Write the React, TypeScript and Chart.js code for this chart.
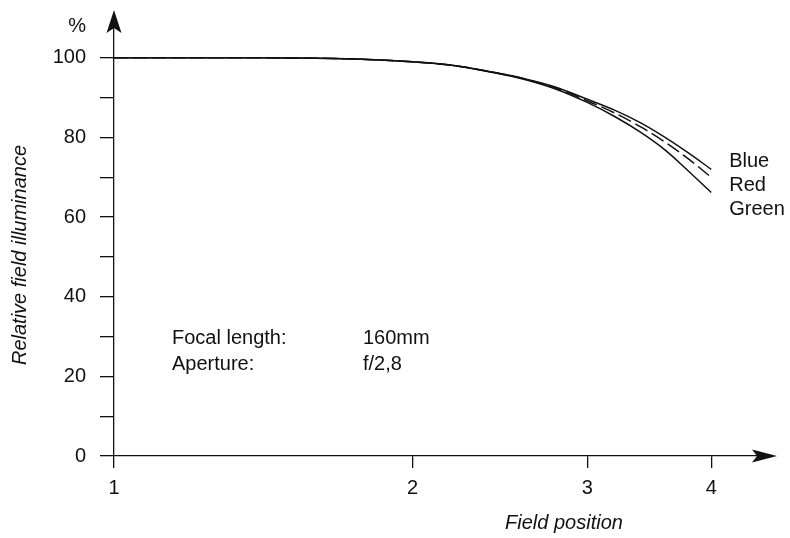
import React, { useEffect, useRef } from "react";
import { Chart, registerables } from "chart.js";

Chart.register(...registerables);

// ---- data ----
const FIELD_POSITIONS = [1, 1.2, 1.4, 1.6, 1.8, 2.0, 2.2, 2.4, 2.6, 2.8, 3.0, 3.2, 3.4, 3.6, 3.8, 4.0];
const BLUE = [100, 100, 100, 99.9, 99.6, 99.0, 98.1, 96.5, 94.7, 92.5, 89.6, 86.8, 83.6, 79.9, 76.0, 72.0];
const RED = [100, 100, 100, 99.9, 99.6, 99.0, 98.1, 96.5, 94.6, 92.3, 89.2, 86.1, 82.6, 78.7, 74.5, 70.0];
const GREEN = [100, 100, 100, 99.9, 99.6, 99.0, 98.1, 96.4, 94.5, 92.0, 88.8, 85.2, 81.2, 76.7, 71.4, 66.2];
const SERIES_NAMES = ["Blue", "Red", "Green"];
const X_TICKS = [1, 2, 3, 4];
const Y_TICKS = [0, 10, 20, 30, 40, 50, 60, 70, 80, 90, 100];
const NOTE_LABELS = ["Focal length:", "Aperture:"];
const NOTE_VALUES = ["160mm", "f/2,8"];
const Y_TITLE = "Relative field illuminance";
const X_TITLE = "Field position";
const Y_UNIT = "%";

const FONT = "'Liberation Sans', Arial, Helvetica, sans-serif";
const INK = "#111111";
const FS = 20;

const overlay = {
  id: "overlay",
  afterDraw(chart: any) {
    const { ctx, chartArea, scales } = chart;
    const x0 = Math.round(scales.x.getPixelForValue(1));
    const y0 = Math.round(scales.y.getPixelForValue(0));
    ctx.save();
    ctx.strokeStyle = INK;
    ctx.fillStyle = INK;
    ctx.lineWidth = 1.3;
    // y-axis arrow
    ctx.beginPath();
    ctx.moveTo(x0, chartArea.top);
    ctx.lineTo(x0, 20);
    ctx.stroke();
    ctx.beginPath();
    ctx.moveTo(x0, 10);
    ctx.lineTo(x0 + 7.5, 33);
    ctx.lineTo(x0, 28);
    ctx.lineTo(x0 - 7.5, 33);
    ctx.closePath();
    ctx.fill();
    // x-axis arrow
    const tip = 777;
    ctx.beginPath();
    ctx.moveTo(chartArea.right, y0);
    ctx.lineTo(tip - 6, y0);
    ctx.stroke();
    ctx.beginPath();
    ctx.moveTo(tip, y0);
    ctx.lineTo(tip - 25, y0 - 6.5);
    ctx.lineTo(tip - 20, y0);
    ctx.lineTo(tip - 25, y0 + 6.5);
    ctx.closePath();
    ctx.fill();

    // texts
    ctx.font = `${FS}px ${FONT}`;
    ctx.textBaseline = "middle";
    ctx.textAlign = "right";
    ctx.fillText(Y_UNIT, 86, 26);

    ctx.textAlign = "left";
    NOTE_LABELS.forEach((t, i) => ctx.fillText(t, 172, 338 + i * 26));
    NOTE_VALUES.forEach((t, i) => ctx.fillText(t, 363, 338 + i * 26));

    const labX = scales.x.getPixelForValue(4) + 18;
    SERIES_NAMES.forEach((t, i) => ctx.fillText(t, labX, 161 + i * 24));

    ctx.font = `italic ${FS}px ${FONT}`;
    ctx.textAlign = "center";
    ctx.fillText(X_TITLE, 564, 523);
    ctx.translate(20, 255);
    ctx.rotate(-Math.PI / 2);
    ctx.fillText(Y_TITLE, 0, 0);
    ctx.restore();
  },
};

export default function App() {
  const ref = useRef<HTMLCanvasElement | null>(null);

  useEffect(() => {
    if (!ref.current) return;
    const mk = (vals: number[]) => FIELD_POSITIONS.map((x, i) => ({ x, y: vals[i] }));
    const chart = new Chart(ref.current, {
      type: "line",
      data: {
        datasets: [
          { label: SERIES_NAMES[0], data: mk(BLUE), borderColor: INK, borderWidth: 1.5, pointRadius: 0, cubicInterpolationMode: "monotone" },
          { label: SERIES_NAMES[1], data: mk(RED), borderColor: INK, borderWidth: 1.5, pointRadius: 0, borderDash: [14, 5], cubicInterpolationMode: "monotone" },
          { label: SERIES_NAMES[2], data: mk(GREEN), borderColor: INK, borderWidth: 1.5, pointRadius: 0, cubicInterpolationMode: "monotone" },
        ],
      },
      options: {
        responsive: false,
        animation: false,
        devicePixelRatio: 1,
        layout: { padding: { top: 21, right: 20, left: 0, bottom: 0 } },
        plugins: { legend: { display: false }, tooltip: { enabled: false } },
        scales: {
          x: {
            type: "logarithmic",
            min: 1,
            max: 4.585,
            afterBuildTicks: (s: any) => {
              s.ticks = X_TICKS.map((v) => ({ value: v }));
            },
            afterFit: (s: any) => {
              s.height = 82;
            },
            grid: { drawOnChartArea: false, drawTicks: true, tickLength: 12, color: INK, lineWidth: 1.3 },
            border: { display: true, color: INK, width: 1.3 },
            ticks: {
              color: INK,
              font: { family: FONT, size: FS },
              padding: 8,
              maxRotation: 0,
              autoSkip: false,
              callback: (v: any) => String(v),
            },
          },
          y: {
            type: "linear",
            min: 0,
            max: 108,
            afterBuildTicks: (s: any) => {
              s.ticks = Y_TICKS.map((v) => ({ value: v }));
            },
            afterFit: (s: any) => {
              s.width = 114;
            },
            grid: { drawOnChartArea: false, drawTicks: true, tickLength: 14, color: INK, lineWidth: 1.3 },
            border: { display: true, color: INK, width: 1.3 },
            ticks: {
              color: INK,
              font: { family: FONT, size: FS },
              padding: 14,
              autoSkip: false,
              callback: (v: any) => (Number(v) % 20 === 0 ? String(v) : ""),
            },
          },
        },
      },
      plugins: [overlay],
    } as any);
    return () => chart.destroy();
  }, []);

  return (
    <div style={{ position: "fixed", left: 0, top: 0, width: 790, height: 538, background: "#fff" }}>
      <canvas ref={ref} width={790} height={538} style={{ display: "block", width: 790, height: 538 }} />
    </div>
  );
}
